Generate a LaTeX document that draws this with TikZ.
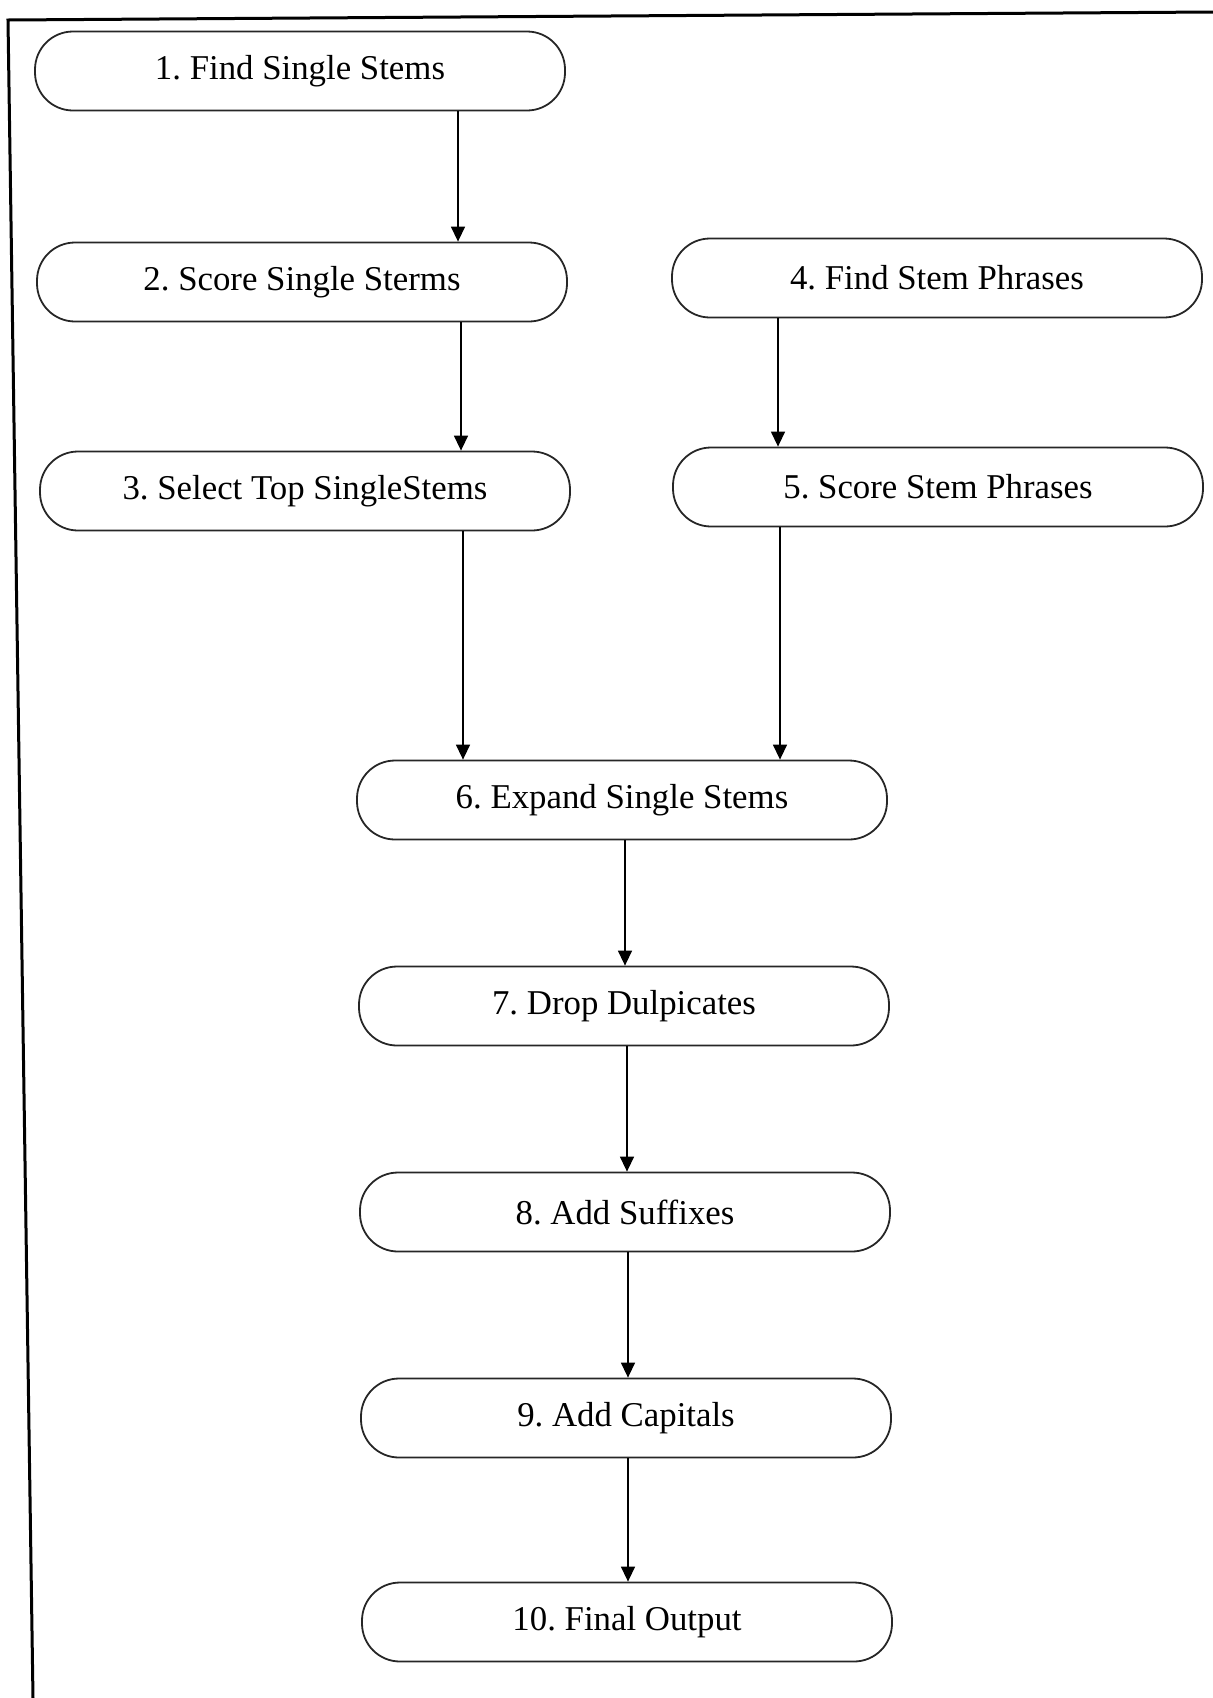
\documentclass[tikz,border=0pt]{standalone}
\usepackage{fontspec}
\setmainfont{Liberation Serif}
\usetikzlibrary{arrows.meta}
\frenchspacing
\begin{document}
\begin{tikzpicture}[x=0.5pt,y=-0.5pt,
  stepbox/.style={draw=black!85, line width=0.9pt, rounded corners=19pt,
    minimum width=265pt, minimum height=39.5pt, inner sep=0pt,
    font=\fontsize{17.4}{20}\selectfont},
  arr/.style={line width=0.7pt, -{Triangle[length=7.5pt,width=7pt]}},
  frameline/.style={line width=1.5pt}]
\useasboundingbox (0,0) rectangle (1213,1698);
% frame (top and left edges)
\coordinate (ftl) at (8,20);
\coordinate (ftr) at (1213,12);
\coordinate (fbl) at (33,1698);
\draw[frameline] (ftr) -- (ftl) -- (fbl);
% nodes
\node[stepbox] (n1) at (300,71) {1. Find Single Stems};
\node[stepbox] (n2) at (302,282) {2. Score Single Sterms};
\node[stepbox] (n3) at (305,491) {3. Select Top SingleStems};
\node[stepbox] (n4) at (937,278) {4. Find Stem Phrases};
\node[stepbox] (n5) at (938,487) {5. Score Stem Phrases};
\node[stepbox] (n6) at (622,800) {6. Expand Single Stems};
\node[stepbox] (n7) at (624,1006) {7. Drop Dulpicates};
\node[stepbox] (n8) at (625,1212) {8. Add Suffixes};
\node[stepbox] (n9) at (626,1418) {9. Add Capitals};
\node[stepbox] (n10) at (627,1622) {10. Final Output};
% connectors
\draw[arr] (458,0 |- n1.south) -- (458,0 |- n2.north);
\draw[arr] (461,0 |- n2.south) -- (461,0 |- n3.north);
\draw[arr] (463,0 |- n3.south) -- (463,0 |- n6.north);
\draw[arr] (778,0 |- n4.south) -- (778,0 |- n5.north);
\draw[arr] (780,0 |- n5.south) -- (780,0 |- n6.north);
\draw[arr] (625,0 |- n6.south) -- (625,0 |- n7.north);
\draw[arr] (627,0 |- n7.south) -- (627,0 |- n8.north);
\draw[arr] (628,0 |- n8.south) -- (628,0 |- n9.north);
\draw[arr] (628,0 |- n9.south) -- (628,0 |- n10.north);
\end{tikzpicture}
\end{document}
